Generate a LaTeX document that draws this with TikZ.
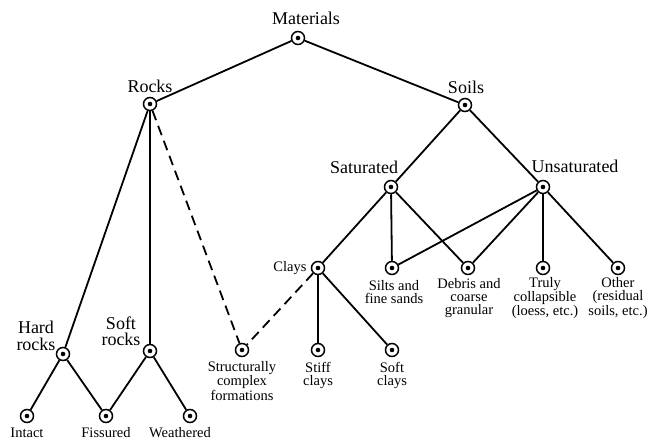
\documentclass[tikz,border=0pt]{standalone}
\usepackage{fontspec}
\setmainfont{Liberation Serif}
\begin{document}
\begin{tikzpicture}[x=1pt,y=-1pt,
  pt/.style={circle,draw,line width=1.5pt,minimum size=13pt,inner sep=0pt,
    path picture={\fill (path picture bounding box.center) circle (2.3pt);}},
  big/.style={font=\fontsize{18}{15}\selectfont,align=center,inner sep=0pt},
  bigtwo/.style={font=\fontsize{18}{16.5}\selectfont,align=center,inner sep=0pt},
  small/.style={font=\fontsize{14.5}{13}\selectfont,align=center,inner sep=0pt},
  edge/.style={line width=1.8pt},
  dedge/.style={line width=1.8pt,dash pattern=on 10pt off 6pt}]
\useasboundingbox (0,0) rectangle (649,442);
% nodes
\node[pt] (mat) at (298,38) {};
\node[pt] (rocks) at (150,104) {};
\node[pt] (soils) at (465,105) {};
\node[pt] (sat) at (391,187) {};
\node[pt] (unsat) at (543,187) {};
\node[pt] (clays) at (318,268) {};
\node[pt] (silts) at (392,268) {};
\node[pt] (debris) at (468,268) {};
\node[pt] (truly) at (543,268) {};
\node[pt] (other) at (618,268) {};
\node[pt] (struct) at (242,350) {};
\node[pt] (stiff) at (318,350) {};
\node[pt] (softc) at (392,350) {};
\node[pt] (hard) at (63,354) {};
\node[pt] (softr) at (150,351) {};
\node[pt] (intact) at (27,416) {};
\node[pt] (fiss) at (106,416) {};
\node[pt] (weath) at (190,416) {};
% labels
\node[big] (lmat) at (306,18) {Materials};
\node[big] (lrocks) at (150,86) {Rocks};
\node[big] (lsoils) at (466,87) {Soils};
\node[big] (lsat) at (364,167) {Saturated};
\node[big] (lunsat) at (575,166) {Unsaturated};
\node[small] (lclays) at (290,268) {Clays};
\node[small] (lsilts) at (394,292) {Silts and\\fine sands};
\node[small] (ldebris) at (469,298) {Debris and\\coarse\\granular};
\node[small] (ltruly) at (545,298) {Truly\\collapsible\\(loess, etc.)};
\node[small] (lother) at (618,298) {Other\\(residual\\soils, etc.)};
\node[small] (lstruct) at (242,381) {Structurally\\complex\\formations};
\node[small] (lstiff) at (318,375) {Stiff\\clays};
\node[small] (lsoftc) at (392,375) {Soft\\clays};
\node[bigtwo] (lhard) at (36,336) {Hard\\rocks};
\node[bigtwo] (lsoftr) at (121,331) {Soft\\rocks};
\node[small] (lintact) at (27,433) {Intact};
\node[small] (lfiss) at (106,433) {Fissured};
\node[small] (lweath) at (180,433) {Weathered};
% edges
\draw[edge] (mat) -- (rocks);
\draw[edge] (mat) -- (soils);
\draw[edge] (rocks) -- (hard);
\draw[edge] (rocks) -- (softr);
\draw[dedge] (rocks) -- (struct);
\draw[dedge] (clays) -- (struct);
\draw[edge] (soils) -- (sat);
\draw[edge] (soils) -- (unsat);
\draw[edge] (sat) -- (clays);
\draw[edge] (sat) -- (silts);
\draw[edge] (sat) -- (debris);
\draw[edge] (unsat) -- (silts);
\draw[edge] (unsat) -- (debris);
\draw[edge] (unsat) -- (truly);
\draw[edge] (unsat) -- (other);
\draw[edge] (clays) -- (stiff);
\draw[edge] (clays) -- (softc);
\draw[edge] (hard) -- (intact);
\draw[edge] (hard) -- (fiss);
\draw[edge] (softr) -- (fiss);
\draw[edge] (softr) -- (weath);
\end{tikzpicture}
\end{document}
